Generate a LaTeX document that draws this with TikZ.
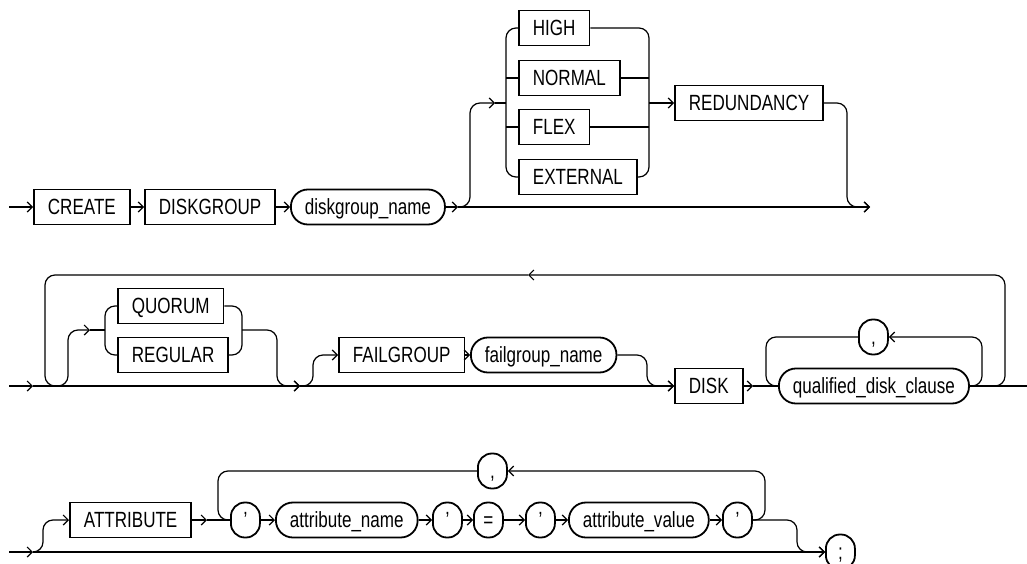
\documentclass[tikz,border=0pt]{standalone}
\usepackage{fontspec}
\usetikzlibrary{arrows.meta}
\newfontfamily\rrfont[FakeStretch=0.775]{Liberation Sans}
\begin{document}
\begin{tikzpicture}[x=1pt,y=-1pt,
  term/.style={draw, line width=1.8pt, rectangle, inner xsep=14pt, inner ysep=0pt,
    minimum height=35pt, text height=15.5pt, text depth=0pt,
    font={\rrfont\fontsize{22pt}{22pt}\selectfont}, anchor=west},
  nonterm/.style={term, rounded corners=17pt},
  sym/.style={term, rounded corners=14pt, inner xsep=0pt, minimum width=29pt},
  conn/.style={line width=1.2pt, rounded corners=10pt},
  arr/.style={conn, -{Straight Barb[length=5pt,width=10pt]}}]
\useasboundingbox (0,0) rectangle (1027,564);
% ---------- row 1 ----------
\node[term] (create) at (33,207) {CREATE};
\node[term] (diskgroup) at (144,207) {DISKGROUP};
\node[nonterm] (dgname) at (290,207) {diskgroup\_name};
\node[term] (high) at (518,28) {HIGH};
\node[term] (normal) at (518,78) {NORMAL};
\node[term] (flex) at (518,127) {FLEX};
\node[term] (external) at (518,177) {EXTERNAL};
\node[term] (redund) at (674,103) {REDUNDANCY};
\coordinate (s1) at (9,207);
\coordinate (j1) at (458,207);
\coordinate (c1) at (495,103);
\coordinate (cl) at (506,103);
\coordinate (cr) at (649,103);
\coordinate (e1) at (870,207);
\draw[arr] (s1) -- (create.west);
\draw[arr] (create.east) -- (diskgroup.west);
\draw[arr] (diskgroup.east) -- (dgname.west);
\draw[arr] (dgname.east) -- (j1);
\draw[arr] (j1) -- (e1);
\draw[arr] (j1) -- (470,207) -- (470,103) -- (c1);
\draw[conn] (c1) -- (cl);
\draw[conn] (high.west) -- (506,28) -- (506,177) -- (external.west);
\draw[conn] (normal.west) -- (506,78);
\draw[conn] (flex.west) -- (506,127);
\draw[conn] (high.east) -- (649,28) -- (649,177) -- (external.east);
\draw[conn] (normal.east) -- (649,78);
\draw[conn] (flex.east) -- (649,127);
\draw[arr] (cr) -- (redund.west);
\draw[arr] (redund.east) -- (847,103) -- (847,207) -- (e1);
% ---------- row 2 ----------
\node[term] (quorum) at (117,306) {QUORUM};
\node[term] (regular) at (117,355) {REGULAR};
\node[term] (failgroup) at (338,355) {FAILGROUP};
\node[nonterm] (fgname) at (470,355) {failgroup\_name};
\node[term] (disk) at (674,386) {DISK};
\node[nonterm] (qdc) at (778,386) {qualified\_disk\_clause};
\node[sym] (comma) at (858,337) {,};
\coordinate (s2) at (9,386);
\coordinate (a2) at (33,386);
\coordinate (b2) at (300,386);
\coordinate (q2in) at (90,330);
\coordinate (ql) at (105,330);
\coordinate (qr) at (242,330);
\coordinate (la) at (528,275);
\coordinate (d2) at (753,386);
\coordinate (e2) at (1027,386);
\draw[arr] (s2) -- (a2);
\draw[arr] (a2) -- (b2);
\draw[arr] (a2) -- (68,386) -- (68,330) -- (q2in);
\draw[conn] (q2in) -- (ql);
\draw[conn] (quorum.west) -- (105,306) -- (105,355) -- (regular.west);
\draw[conn] (quorum.east) -- (242,306) -- (242,355) -- (regular.east);
\draw[arr] (qr) -- (277,330) -- (277,386) -- (b2);
\draw[arr] (b2) -- (313,386) -- (313,355) -- (failgroup.west);
\draw[arr] (failgroup.east) -- (fgname.west);
\draw[arr] (fgname.east) -- (647,355) -- (647,386) -- (disk.west);
\draw[arr] (b2) -- (disk.west);
\draw[arr] (disk.east) -- (d2);
\draw[conn] (d2) -- (qdc.west);
\draw[conn] (comma.west) -- (766,337) -- (766,386) -- (qdc.west);
\draw[arr] (qdc.east) -- (982,386) -- (982,337) -- (comma.east);
\draw[conn] (qdc.east) -- (e2);
\draw[arr] (qdc.east) -- (1005,386) -- (1005,275) -- (la);
\draw[conn] (la) -- (45,275) -- (45,386) -- (60,386);
% ---------- row 3 ----------
\node[term] (attribute) at (69,520) {ATTRIBUTE};
\node[sym] (qa) at (230,520) {’};
\node[nonterm] (aname) at (275,520) {attribute\_name};
\node[sym] (qb) at (432,520) {’};
\node[sym] (eq) at (473,520) {=};
\node[sym] (qc) at (525,520) {’};
\node[nonterm] (aval) at (568,520) {attribute\_value};
\node[sym] (qd) at (722,520) {’};
\node[sym] (comma2) at (477,471) {,};
\node[sym] (semi) at (825,552) {;};
\coordinate (s3) at (9,552);
\coordinate (a3) at (33,552);
\coordinate (t3) at (207,520);
\draw[arr] (s3) -- (a3);
\draw[arr] (a3) -- (semi.west);
\draw[arr] (a3) -- (43,552) -- (43,520) -- (attribute.west);
\draw[arr] (attribute.east) -- (t3);
\draw[conn] (t3) -- (qa.west);
\draw[conn] (comma2.west) -- (218,471) -- (218,520) -- (qa.west);
\draw[arr] (qa.east) -- (aname.west);
\draw[arr] (aname.east) -- (qb.west);
\draw[arr] (qb.east) -- (eq.west);
\draw[arr] (eq.east) -- (qc.west);
\draw[arr] (qc.east) -- (aval.west);
\draw[arr] (aval.east) -- (qd.west);
\draw[arr] (qd.east) -- (765,520) -- (765,471) -- (comma2.east);
\draw[arr] (qd.east) -- (797,520) -- (797,552) -- (semi.west);
\end{tikzpicture}
\end{document}
